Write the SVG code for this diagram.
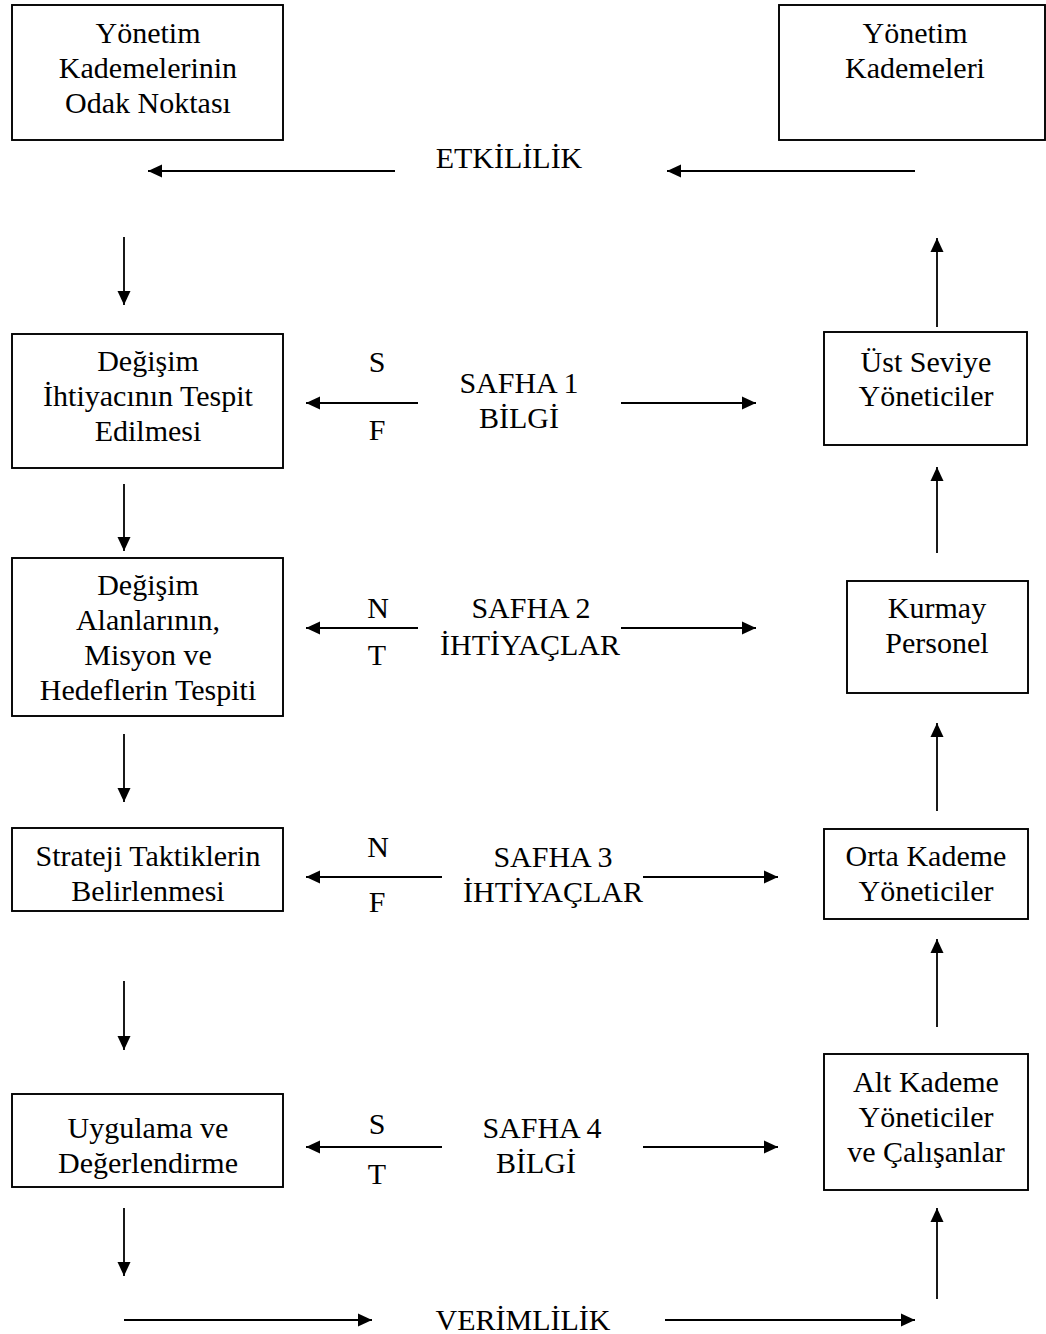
<svg xmlns="http://www.w3.org/2000/svg" width="1046" height="1334" viewBox="0 0 1046 1334">
<style>
rect.box{fill:#fff;stroke:#000;stroke-width:1.9}
text{font-family:"Liberation Serif","Times New Roman",serif;font-size:30px;fill:#000;text-anchor:middle}
line.c{stroke:#000;stroke-width:1.8;marker-end:url(#ah)}
</style>
<defs>
<marker id="ah" markerUnits="userSpaceOnUse" markerWidth="16" markerHeight="14" refX="14" refY="7" orient="auto">
<path d="M0,0.5 L14,7 L0,13.5 z" fill="#000"/>
</marker>
</defs>
<rect width="1046" height="1334" fill="#fff"/>
<g id="n-odak"><rect class="box" x="12" y="5" width="271" height="135"/><text x="148" y="43">Yönetim</text><text x="148" y="78">Kademelerinin</text><text x="148" y="113">Odak Noktası</text></g>
<g id="n-kademeler"><rect class="box" x="779" y="5" width="266" height="135"/><text x="915" y="43">Yönetim</text><text x="915" y="78">Kademeleri</text></g>
<g id="n-degisim"><rect class="box" x="12" y="334" width="271" height="134"/><text x="148" y="371">Değişim</text><text x="148" y="406">İhtiyacının Tespit</text><text x="148" y="441">Edilmesi</text></g>
<g id="n-alanlar"><rect class="box" x="12" y="558" width="271" height="158"/><text x="148" y="595">Değişim</text><text x="148" y="630">Alanlarının,</text><text x="148" y="665">Misyon ve</text><text x="148" y="700">Hedeflerin Tespiti</text></g>
<g id="n-strateji"><rect class="box" x="12" y="828" width="271" height="83"/><text x="148" y="866">Strateji Taktiklerin</text><text x="148" y="901">Belirlenmesi</text></g>
<g id="n-uygulama"><rect class="box" x="12" y="1094" width="271" height="93"/><text x="148" y="1138">Uygulama ve</text><text x="148" y="1173">Değerlendirme</text></g>
<g id="n-ust"><rect class="box" x="824" y="332" width="203" height="113"/><text x="926" y="372">Üst Seviye</text><text x="926" y="406">Yöneticiler</text></g>
<g id="n-kurmay"><rect class="box" x="847" y="581" width="181" height="112"/><text x="937" y="618">Kurmay</text><text x="937" y="653">Personel</text></g>
<g id="n-orta"><rect class="box" x="824" y="829" width="204" height="90"/><text x="926" y="866">Orta Kademe</text><text x="926" y="901">Yöneticiler</text></g>
<g id="n-alt"><rect class="box" x="824" y="1054" width="204" height="136"/><text x="926" y="1092">Alt Kademe</text><text x="926" y="1127">Yöneticiler</text><text x="926" y="1162">ve Çalışanlar</text></g>
<g id="labels">
<text x="509" y="168">ETKİLİLİK</text>
<text x="523" y="1330">VERİMLİLİK</text>
<text x="377" y="372">S</text><text x="377" y="440">F</text><text x="519" y="393">SAFHA 1</text><text x="519" y="428">BİLGİ</text>
<text x="378" y="618">N</text><text x="377" y="665">T</text><text x="531" y="618">SAFHA 2</text><text x="530" y="655">İHTİYAÇLAR</text>
<text x="378" y="857">N</text><text x="377" y="912">F</text><text x="553" y="867">SAFHA 3</text><text x="553" y="902">İHTİYAÇLAR</text>
<text x="377" y="1134">S</text><text x="377" y="1184">T</text><text x="542" y="1138">SAFHA 4</text><text x="536" y="1173">BİLGİ</text>
</g>
<g id="connectors">
<line class="c" x1="395" y1="171" x2="148" y2="171"/>
<line class="c" x1="915" y1="171" x2="667" y2="171"/>
<line class="c" x1="124" y1="1320" x2="372" y2="1320"/>
<line class="c" x1="665" y1="1320" x2="915" y2="1320"/>
<line class="c" x1="124" y1="237" x2="124" y2="305"/>
<line class="c" x1="124" y1="484" x2="124" y2="551"/>
<line class="c" x1="124" y1="734" x2="124" y2="802"/>
<line class="c" x1="124" y1="981" x2="124" y2="1050"/>
<line class="c" x1="124" y1="1208" x2="124" y2="1276"/>
<line class="c" x1="937" y1="327" x2="937" y2="238"/>
<line class="c" x1="937" y1="553" x2="937" y2="467"/>
<line class="c" x1="937" y1="811" x2="937" y2="723"/>
<line class="c" x1="937" y1="1027" x2="937" y2="939"/>
<line class="c" x1="937" y1="1299" x2="937" y2="1208"/>
<line class="c" x1="418" y1="403" x2="306" y2="403"/>
<line class="c" x1="621" y1="403" x2="756" y2="403"/>
<line class="c" x1="418" y1="628" x2="306" y2="628"/>
<line class="c" x1="621" y1="628" x2="756" y2="628"/>
<line class="c" x1="442" y1="877" x2="306" y2="877"/>
<line class="c" x1="643" y1="877" x2="778" y2="877"/>
<line class="c" x1="442" y1="1147" x2="306" y2="1147"/>
<line class="c" x1="643" y1="1147" x2="778" y2="1147"/>
</g>
</svg>
